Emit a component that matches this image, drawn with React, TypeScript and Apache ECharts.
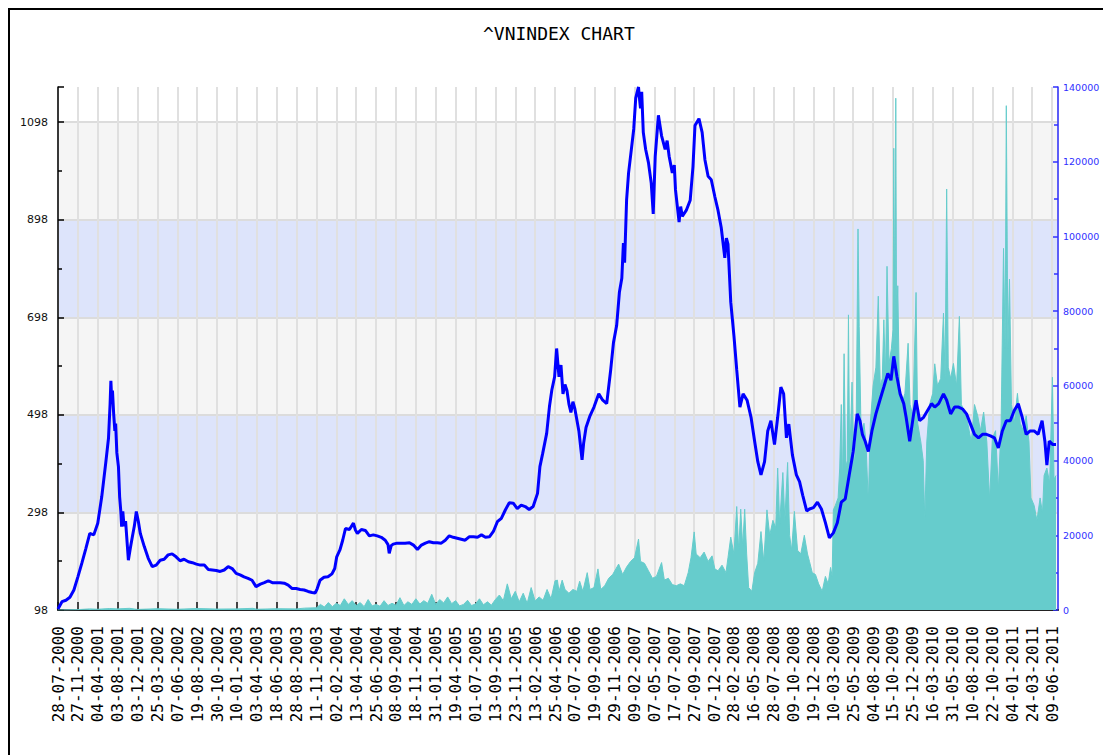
import { useEffect, useRef } from 'react';
import * as echarts from 'echarts';

// X axis: trading-day index, one labelled tick every 50 sessions
const dateLabels = [
  '28-07-2000', '27-11-2000', '04-04-2001', '03-08-2001', '03-12-2001', '25-03-2002',
  '07-06-2002', '19-08-2002', '30-10-2002', '10-01-2003', '03-04-2003', '18-06-2003',
  '28-08-2003', '11-11-2003', '02-02-2004', '13-04-2004', '25-06-2004', '08-09-2004',
  '18-11-2004', '31-01-2005', '19-04-2005', '01-07-2005', '13-09-2005', '23-11-2005',
  '13-02-2006', '25-04-2006', '07-07-2006', '19-09-2006', '29-11-2006', '09-02-2007',
  '07-05-2007', '17-07-2007', '27-09-2007', '07-12-2007', '28-02-2008', '16-05-2008',
  '28-07-2008', '09-10-2008', '19-12-2008', '10-03-2009', '25-05-2009', '04-08-2009',
  '15-10-2009', '25-12-2009', '16-03-2010', '31-05-2010', '10-08-2010', '22-10-2010',
  '04-01-2011', '24-03-2011', '09-06-2011',
];
const SESSIONS_PER_LABEL = 50;
const LAST_SESSION = 2515;

// Left axis (index level)
const indexMin = 98;
const indexMax = 1170;
const indexStep = 200;

// Right axis (volume)
const volumeMax = 140000;
const volumeStep = 20000;

// [session index, VN-Index close]
const indexPoints: [number, number][] = [
  [0, 100], [10, 115], [20, 118], [30, 124], [40, 139], [50, 166], [60, 194], [70, 224], [80, 255], [90, 252],
  [100, 276], [110, 330], [120, 399], [127, 450], [131, 520], [133, 568], [135, 530], [137, 548], [140, 500],
  [143, 465], [145, 480], [148, 420], [152, 392], [155, 330], [158, 300], [160, 269], [163, 300], [166, 270],
  [170, 280], [177, 200], [182, 225], [187, 248], [192, 270], [197, 300], [202, 280], [207, 255], [217, 228],
  [227, 204], [237, 187], [247, 190], [257, 200], [267, 202], [277, 211], [287, 213], [297, 207], [307, 199],
  [317, 202], [328, 197], [338, 195], [348, 192], [358, 190], [368, 190], [378, 181], [388, 180], [398, 179],
  [408, 177], [418, 180], [428, 187], [438, 183], [448, 173], [458, 170], [468, 166], [478, 163], [488, 159],
  [498, 146], [509, 151], [519, 154], [529, 158], [539, 154], [549, 154], [559, 154], [569, 153], [579, 149],
  [589, 142], [599, 142], [609, 140], [619, 139], [629, 136], [639, 134], [647, 133], [652, 142], [659, 159],
  [669, 165], [679, 166], [689, 172], [696, 183], [701, 207], [709, 221], [716, 241], [723, 265], [733, 263],
  [743, 276], [748, 262], [753, 255], [763, 263], [773, 261], [783, 250], [793, 252], [803, 250], [813, 247],
  [823, 241], [830, 232], [833, 214], [838, 230], [843, 233], [853, 235], [863, 235], [873, 235], [884, 236],
  [894, 231], [904, 222], [914, 231], [924, 235], [934, 238], [944, 236], [954, 236], [964, 235], [974, 241],
  [984, 250], [994, 247], [1004, 245], [1014, 243], [1024, 241], [1034, 248], [1045, 248], [1055, 247],
  [1065, 252], [1075, 247], [1085, 248], [1095, 259], [1105, 279], [1115, 286], [1125, 303], [1135, 318],
  [1145, 317], [1155, 306], [1165, 313], [1175, 310], [1185, 304], [1195, 310], [1206, 337], [1212, 392],
  [1219, 419], [1229, 460], [1236, 515], [1242, 549], [1249, 576], [1254, 634], [1260, 576], [1265, 600],
  [1270, 541], [1275, 560], [1280, 548], [1285, 520], [1290, 503], [1295, 525], [1300, 510], [1310, 465],
  [1318, 406], [1322, 440], [1328, 472], [1338, 496], [1348, 514], [1355, 530], [1360, 541], [1370, 528],
  [1380, 521], [1390, 590], [1397, 646], [1405, 681], [1412, 750], [1418, 778], [1422, 850], [1425, 810],
  [1430, 938], [1435, 994], [1442, 1042], [1448, 1084], [1453, 1147], [1458, 1164], [1460, 1170], [1462, 1150],
  [1465, 1126], [1468, 1160], [1472, 1077], [1478, 1042], [1485, 1015], [1492, 973], [1497, 910], [1502, 1028],
  [1510, 1112], [1518, 1070], [1527, 1042], [1532, 1060], [1537, 1028], [1545, 994], [1550, 1010], [1553, 959],
  [1562, 893], [1566, 925], [1570, 905], [1580, 917], [1590, 938], [1597, 1007], [1602, 1091], [1612, 1105],
  [1620, 1077], [1627, 1021], [1635, 987], [1643, 980], [1652, 945], [1660, 917], [1668, 882], [1677, 820],
  [1681, 860], [1685, 848], [1692, 729], [1700, 660], [1707, 590], [1715, 514], [1723, 541], [1733, 528],
  [1743, 493], [1752, 444], [1760, 402], [1768, 375], [1777, 402], [1785, 465], [1793, 486], [1802, 437],
  [1810, 493], [1818, 555], [1825, 541], [1832, 451], [1838, 479], [1847, 416], [1857, 375], [1865, 361],
  [1873, 333], [1883, 301], [1890, 305], [1900, 308], [1910, 319], [1920, 305], [1930, 277], [1940, 246],
  [1950, 256], [1960, 277], [1970, 319], [1980, 326], [1990, 375], [2000, 423], [2010, 500], [2017, 486],
  [2023, 458], [2030, 444], [2038, 423], [2047, 465], [2057, 500], [2067, 528], [2077, 555], [2087, 583],
  [2095, 569], [2102, 618], [2110, 576], [2118, 541], [2127, 521], [2133, 493], [2142, 444], [2152, 500],
  [2158, 528], [2167, 486], [2177, 493], [2187, 507], [2197, 521], [2205, 514], [2215, 521], [2227, 541],
  [2235, 528], [2245, 500], [2255, 514], [2265, 514], [2275, 510], [2285, 500], [2295, 479], [2305, 458],
  [2315, 451], [2325, 458], [2335, 458], [2345, 455], [2355, 451], [2365, 430], [2375, 465], [2385, 486],
  [2395, 486], [2405, 507], [2415, 521], [2425, 493], [2435, 458], [2445, 465], [2455, 465], [2465, 458],
  [2475, 486], [2482, 444], [2487, 395], [2493, 444], [2502, 437], [2510, 437],
];

// [session index, traded volume]
const volumePoints: [number, number][] = [
  [0, 0], [50, 100], [80, 300], [100, 200], [130, 400], [150, 300], [180, 450], [200, 150], [250, 350],
  [300, 200], [350, 400], [400, 250], [450, 300], [490, 450], [500, 200], [550, 350], [600, 300], [620, 500],
  [650, 600], [660, 1500], [670, 800], [680, 2000], [690, 900], [700, 1800], [710, 1200], [720, 3000],
  [730, 1500], [740, 2500], [750, 1200], [760, 2000], [770, 900], [780, 2800], [790, 1100], [800, 1500],
  [810, 1000], [820, 2500], [830, 1200], [840, 1800], [850, 1300], [860, 3300], [870, 1200], [880, 2200],
  [890, 1500], [900, 3000], [910, 1600], [920, 2500], [930, 1800], [940, 4200], [950, 1500], [960, 2800],
  [970, 1900], [980, 3500], [990, 1700], [1000, 2500], [1010, 1100], [1020, 1500], [1030, 2600], [1040, 1200],
  [1050, 1600], [1060, 3000], [1070, 1400], [1080, 2200], [1090, 1300], [1100, 2800], [1110, 4000],
  [1120, 2500], [1130, 7000], [1140, 3000], [1150, 5000], [1160, 2200], [1170, 4500], [1180, 1800],
  [1190, 6000], [1200, 2400], [1210, 3500], [1220, 2600], [1230, 5500], [1240, 3000], [1250, 7800],
  [1256, 8000], [1260, 5000], [1268, 8000], [1275, 5500], [1285, 4500], [1295, 5500], [1305, 5000],
  [1312, 7700], [1320, 5000], [1331, 10000], [1338, 5500], [1348, 6000], [1358, 11000], [1365, 5500],
  [1375, 6500], [1385, 8500], [1395, 9500], [1403, 11000], [1410, 12300], [1420, 9500], [1430, 11500],
  [1440, 13000], [1450, 14000], [1460, 19000], [1465, 13000], [1475, 12500], [1485, 10500], [1495, 8500],
  [1505, 9000], [1518, 12700], [1525, 8000], [1535, 8500], [1545, 6800], [1555, 6500], [1565, 7000],
  [1575, 6500], [1585, 10000], [1592, 14000], [1600, 20900], [1605, 15000], [1615, 14000], [1625, 15500],
  [1635, 13000], [1645, 14500], [1652, 11000], [1660, 10500], [1670, 12000], [1680, 10000], [1685, 14000],
  [1692, 19500], [1700, 15000], [1707, 27700], [1712, 16000], [1717, 27000], [1722, 17000], [1727, 27000],
  [1732, 15000], [1737, 6000], [1745, 5000], [1752, 10000], [1760, 12500], [1768, 21000], [1775, 13000],
  [1783, 26800], [1790, 20000], [1798, 24000], [1805, 22000], [1810, 38000], [1815, 23000], [1823, 36800],
  [1828, 24000], [1835, 39500], [1840, 20000], [1845, 16000], [1852, 26400], [1860, 16000], [1868, 15000],
  [1877, 20000], [1885, 15000], [1890, 13000], [1897, 10000], [1905, 9500], [1913, 7000], [1922, 5000],
  [1930, 9000], [1937, 7000], [1943, 11400], [1947, 9000], [1950, 26800], [1955, 28000], [1962, 30000],
  [1966, 38000], [1970, 55000], [1973, 32000], [1977, 68600], [1981, 38000], [1985, 40000], [1988, 79000],
  [1991, 40000], [1997, 61000], [2002, 38000], [2007, 45000], [2012, 102000], [2015, 75900], [2020, 46000],
  [2027, 50000], [2032, 45000], [2038, 28600], [2043, 50000], [2050, 60000], [2057, 65000], [2063, 84000],
  [2068, 60000], [2073, 62000], [2077, 77700], [2081, 62000], [2085, 92000], [2090, 66000], [2096, 70000],
  [2100, 75000], [2102, 123600], [2105, 70000], [2107, 137000], [2109, 75000], [2112, 86800], [2116, 60000],
  [2122, 55000], [2130, 58000], [2138, 71400], [2143, 55000], [2150, 52000], [2158, 85000], [2162, 50000],
  [2170, 45000], [2176, 40000], [2180, 24100], [2185, 45000], [2192, 55000], [2200, 58000], [2205, 65900],
  [2212, 60000], [2220, 62000], [2227, 79500], [2231, 62000], [2235, 112700], [2239, 65000], [2245, 62000],
  [2252, 66000], [2260, 60000], [2267, 78600], [2272, 55000], [2280, 53000], [2288, 50000], [2297, 45000],
  [2305, 55000], [2313, 52000], [2320, 48000], [2328, 53000], [2336, 45000], [2343, 29500], [2350, 46000],
  [2358, 48000], [2365, 32000], [2372, 50000], [2378, 96800], [2382, 70000], [2385, 135000], [2389, 70000],
  [2393, 88600], [2398, 55000], [2405, 50000], [2413, 58000], [2420, 50000], [2428, 48000], [2435, 52000],
  [2442, 45000], [2447, 30000], [2455, 28000], [2462, 24000], [2470, 30000], [2476, 26000], [2480, 36000],
  [2487, 38000], [2494, 34000], [2501, 62300], [2505, 35000], [2510, 36000],
];

export default function App() {
  const ref = useRef<HTMLDivElement>(null);

  useEffect(() => {
    if (!ref.current) return;
    const chart = echarts.init(ref.current, null, { renderer: 'svg' });
    chart.setOption({
      animation: false,
      backgroundColor: '#ffffff',
      title: {
        text: '^VNINDEX CHART',
        left: 478,
        top: 19,
        textStyle: {
          fontFamily: 'DejaVu Sans Mono',
          fontSize: 18,
          fontWeight: 'normal',
          color: '#000',
        },
      },
      grid: { left: 58, right: 45, top: 87, bottom: 145, containLabel: false, outerBoundsMode: 'none' },
      xAxis: {
        type: 'value',
        min: 0,
        max: LAST_SESSION,
        interval: SESSIONS_PER_LABEL,
        axisLine: { show: true, lineStyle: { color: '#222', width: 2 } },
        axisTick: { show: true, inside: true, length: 8, lineStyle: { color: '#111', width: 1.5 } },
        axisLabel: {
          rotate: 90,
          margin: 16,
          color: '#000',
          fontFamily: 'DejaVu Sans Mono',
          fontSize: 16,
          showMaxLabel: false,
          formatter: (v: number) => {
            const i = Math.round(v / SESSIONS_PER_LABEL);
            return Math.abs(v - i * SESSIONS_PER_LABEL) < 0.01 ? dateLabels[i] ?? '' : '';
          },
        },
        splitLine: { show: true, lineStyle: { color: '#e0e0e0', width: 2 } },
      },
      yAxis: [
        {
          type: 'value',
          position: 'left',
          min: 0,
          max: indexMax - indexMin,
          interval: indexStep,
          axisLine: { show: true, lineStyle: { color: '#000', width: 1.5 } },
          axisTick: { show: true, inside: true, length: 6, lineStyle: { color: '#000', width: 1.5 } },
          minorTick: { show: true, splitNumber: 2, length: 4, lineStyle: { color: '#000', width: 1.5 } },
          axisLabel: {
            color: '#111',
            fontFamily: 'DejaVu Sans',
            fontSize: 11,
            margin: 10,
            showMaxLabel: false,
            formatter: (v: number) => String(v + indexMin),
          },
          splitLine: { show: true, showMinLine: false, showMaxLine: false, lineStyle: { color: '#dcdcdc', width: 2 } },
          splitArea: {
            show: true,
            areaStyle: { color: ['#f5f5f5', '#dde4fb', '#f5f5f5', '#dde4fb', '#f5f5f5', '#ffffff'] },
          },
        },
        {
          type: 'value',
          position: 'right',
          min: 0,
          max: volumeMax,
          interval: volumeStep,
          axisLine: { show: true, lineStyle: { color: '#3030ff', width: 1.5 } },
          axisTick: { show: true, inside: true, length: 5, lineStyle: { color: '#3030ff', width: 1.5 } },
          minorTick: { show: true, splitNumber: 2, length: 4, lineStyle: { color: '#3030ff', width: 1.5 } },
          axisLabel: {
            color: '#3030ff',
            fontFamily: 'DejaVu Sans',
            fontSize: 9.5,
            margin: 5,
            formatter: (v: number) => String(v),
          },
          splitLine: { show: false },
        },
      ],
      series: [
        {
          name: 'Volume',
          type: 'line',
          yAxisIndex: 1,
          data: volumePoints,
          showSymbol: false,
          lineStyle: { color: '#66cccc', width: 1 },
          areaStyle: { color: '#66cccc', opacity: 1 },
          z: 2,
        },
        {
          name: '^VNINDEX',
          type: 'line',
          yAxisIndex: 0,
          data: indexPoints.map(([i, v]) => [i, v - indexMin]),
          showSymbol: false,
          lineStyle: { color: '#0000ff', width: 3 },
          z: 3,
        },
      ],
    });
    return () => chart.dispose();
  }, []);

  return (
    <div style={{ position: 'fixed', left: 0, top: 0, width: 1103, height: 755, overflow: 'hidden', background: '#fff' }}>
      <div ref={ref} style={{ position: 'absolute', left: 0, top: 0, width: 1103, height: 755 }} />
      <div
        style={{
          position: 'absolute',
          left: 8,
          top: 8,
          width: 1200,
          height: 800,
          borderLeft: '2px solid #000',
          borderTop: '2px solid #000',
          pointerEvents: 'none',
        }}
      />
    </div>
  );
}
